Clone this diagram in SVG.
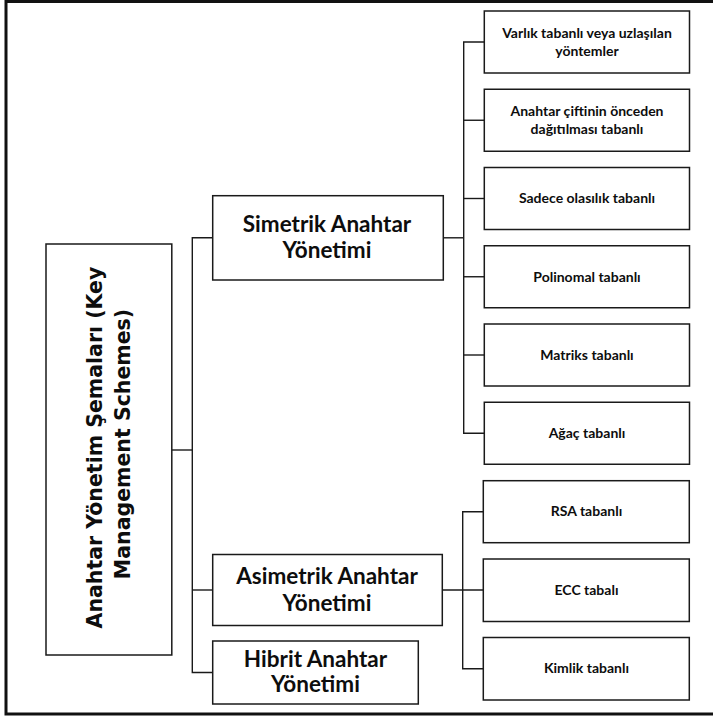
<svg xmlns="http://www.w3.org/2000/svg" width="713" height="718" viewBox="0 0 713 718">
  <style>
    .box { fill: #ffffff; stroke: #1a1a1a; stroke-width: 1.5; }
    .wire { fill: none; stroke: #1a1a1a; stroke-width: 1.4; }
    .main { font-family: Lato, "Open Sans", "DejaVu Sans", sans-serif; font-weight: bold; font-size: 22.5px; fill: #0d0d0d; text-anchor: middle; }
    .leaf { font-family: Lato, "Open Sans", "DejaVu Sans", sans-serif; font-weight: bold; font-size: 14px; fill: #0d0d0d; text-anchor: middle; }
    .root { font-family: "DejaVu Sans", Verdana, sans-serif; font-weight: bold; font-size: 20.5px; fill: #0d0d0d; text-anchor: middle; }
  </style>

  <rect x="0" y="0" width="713" height="718" fill="#ffffff"/>

  <!-- outer frame -->
  <rect x="6" y="1.5" width="730" height="712.5" fill="none" stroke="#111" stroke-width="3"/>

  <!-- connectors -->
  <g id="connectors" class="wire">
    <path d="M172 450 H192.3"/>
    <path d="M212.7 237.8 H192.3 V672.5 H212.7"/>
    <path d="M192.3 590 H212.7"/>
    <path d="M443.3 237.8 H463.7"/>
    <path d="M484.3 42 H463.7 V433.25 H484.3"/>
    <path d="M463.7 120.25 H484.3"/>
    <path d="M463.7 198.5 H484.3"/>
    <path d="M463.7 276.75 H484.3"/>
    <path d="M463.7 355 H484.3"/>
    <path d="M442.3 590 H483.3"/>
    <path d="M483.3 511.7 H462.7 V668.7 H483.3"/>
  </g>

  <!-- root -->
  <g id="root">
    <rect class="box" x="46" y="244" width="125.8" height="411"/>
    <text class="root" transform="translate(110 444) rotate(-90)">
      <tspan x="0" y="-8">Anahtar Yönetim Şemaları (Key</tspan>
      <tspan x="0" y="19.5">Management Schemes)</tspan>
    </text>
  </g>

  <!-- second level -->
  <g id="simetrik">
    <rect class="box" x="212.7" y="195.7" width="230.6" height="84.3"/>
    <text class="main" x="327" y="232.3">Simetrik Anahtar</text>
    <text class="main" x="327" y="257.8">Yönetimi</text>
  </g>
  <g id="asimetrik">
    <rect class="box" x="212.7" y="554.5" width="229.6" height="71"/>
    <text class="main" x="327" y="584.3">Asimetrik Anahtar</text>
    <text class="main" x="327" y="610.5">Yönetimi</text>
  </g>
  <g id="hibrit">
    <rect class="box" x="212.7" y="641" width="205.6" height="63"/>
    <text class="main" x="315.5" y="666.7">Hibrit Anahtar</text>
    <text class="main" x="315.5" y="692">Yönetimi</text>
  </g>

  <!-- symmetric leaves -->
  <g id="varlik">
    <rect class="box" x="484.3" y="11" width="205.2" height="62"/>
    <text class="leaf" x="587" y="37.5">Varlık tabanlı veya uzlaşılan</text>
    <text class="leaf" x="587" y="55.5">yöntemler</text>
  </g>
  <g id="ciftinin">
    <rect class="box" x="484.3" y="89.25" width="205.2" height="62"/>
    <text class="leaf" x="587" y="115.8">Anahtar çiftinin önceden</text>
    <text class="leaf" x="587" y="133.8">dağıtılması tabanlı</text>
  </g>
  <g id="sadece">
    <rect class="box" x="484.3" y="167.5" width="205.2" height="62"/>
    <text class="leaf" x="587" y="203.3">Sadece olasılık tabanlı</text>
  </g>
  <g id="polinomal">
    <rect class="box" x="484.3" y="245.75" width="205.2" height="62"/>
    <text class="leaf" x="587" y="281.5">Polinomal tabanlı</text>
  </g>
  <g id="matriks">
    <rect class="box" x="484.3" y="324" width="205.2" height="62"/>
    <text class="leaf" x="587" y="359.8">Matriks tabanlı</text>
  </g>
  <g id="agac">
    <rect class="box" x="484.3" y="402.25" width="205.2" height="62"/>
    <text class="leaf" x="587" y="438">Ağaç tabanlı</text>
  </g>

  <!-- asymmetric leaves -->
  <g id="rsa">
    <rect class="box" x="483.3" y="480.7" width="206" height="62"/>
    <text class="leaf" x="586.5" y="516.4">RSA tabanlı</text>
  </g>
  <g id="ecc">
    <rect class="box" x="483.3" y="559" width="206" height="62.5"/>
    <text class="leaf" x="586.5" y="594.8">ECC tabalı</text>
  </g>
  <g id="kimlik">
    <rect class="box" x="483.3" y="637.5" width="206" height="62.5"/>
    <text class="leaf" x="586.5" y="673.4">Kimlik tabanlı</text>
  </g>
</svg>
